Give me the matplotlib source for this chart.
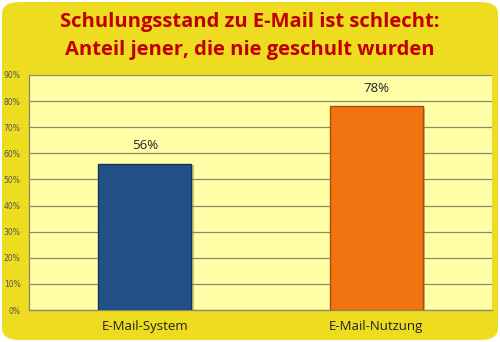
import matplotlib
matplotlib.use("Agg")
import matplotlib.pyplot as plt
from matplotlib.patches import FancyBboxPatch
from matplotlib.ticker import PercentFormatter

categories = ["E-Mail-System", "E-Mail-Nutzung"]
shares = [56, 78]
bar_colors = ["#24508A", "#F07511"]
edge_colors = ["#163458", "#A64E08"]

fig = plt.figure(figsize=(5.0, 3.42), dpi=100)
fig.patch.set_facecolor("white")

# rounded yellow frame behind everything
frame = FancyBboxPatch((0.004, 0.006), 0.992, 0.988,
                       boxstyle="round,pad=0,rounding_size=0.035",
                       transform=fig.transFigure, facecolor="#EDDC1F",
                       edgecolor="none", zorder=-1)
fig.patches.append(frame)

fig.text(0.5, 0.935, "Schulungsstand zu E-Mail ist schlecht:",
         ha="center", va="center", fontsize=14.5, fontweight="bold",
         color="#C00000", family="Open Sans")
fig.text(0.5, 0.855, "Anteil jener, die nie geschult wurden",
         ha="center", va="center", fontsize=14.5, fontweight="bold",
         color="#C00000", family="Open Sans")

ax = fig.add_axes([29 / 500, 1 - 310 / 342, 463 / 500, 235 / 342])
ax.set_zorder(2)
ax.set_facecolor("#FFFFA8")

x = range(len(categories))
# drop shadow
ax.bar([i + 0.012 for i in x], [v - 0.6 for v in shares], width=0.4,
       bottom=0, color="#9A8F40", alpha=0.5, zorder=2)
bars = ax.bar(x, shares, width=0.4, color=bar_colors,
              edgecolor=edge_colors, linewidth=1.0, zorder=3)
for i, v in enumerate(shares):
    ax.text(i, v + 4.5, f"{v}%", ha="center", va="bottom", fontsize=9.5,
            color="#222222", family="Open Sans")

ax.set_xlim(-0.5, 1.5)
ax.set_ylim(0, 90)
ax.set_yticks(range(0, 91, 10))
ax.yaxis.set_major_formatter(PercentFormatter(decimals=0))
ax.set_xticks(list(x))
ax.set_xticklabels(categories, fontsize=9.5, color="#222222", family="Open Sans")
ax.tick_params(axis="y", labelsize=5.5, colors="#555555", length=0, pad=6)
ax.tick_params(axis="x", length=0, pad=7)
ax.grid(axis="y", color="#8C8868", linewidth=0.9, zorder=1)
ax.set_axisbelow(True)
for side in ["top", "right"]:
    ax.spines[side].set_visible(False)
for side in ["left", "bottom"]:
    ax.spines[side].set_color("#8C8868")
    ax.spines[side].set_linewidth(0.9)

fig.savefig("out.png", dpi=100)
